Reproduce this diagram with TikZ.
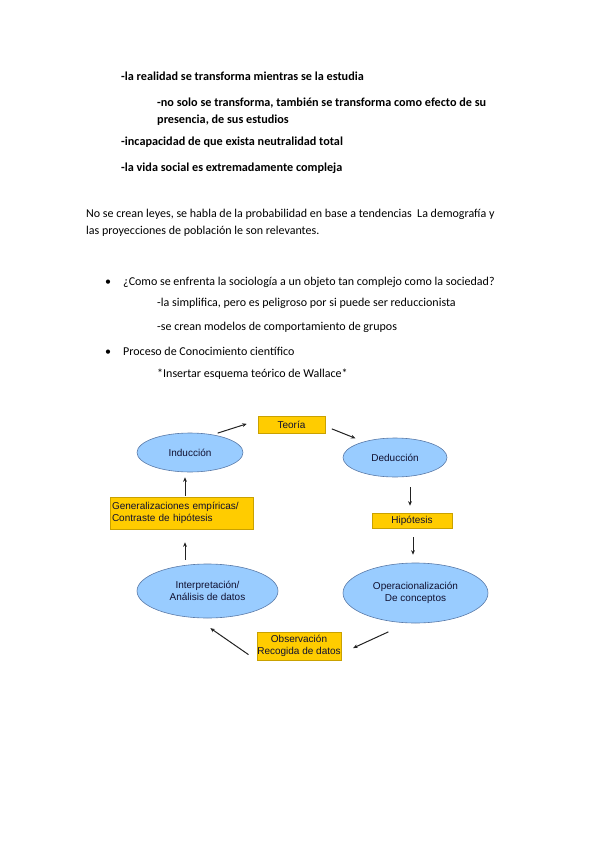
\documentclass[tikz,border=0pt]{standalone}
\usepackage{fontspec}
\setmainfont{Carlito}
\newfontfamily\arialf{Liberation Sans}
\usetikzlibrary{shapes.geometric,arrows.meta}
\definecolor{boxyellow}{HTML}{FFCC00}
\definecolor{boxedge}{HTML}{C9A100}
\definecolor{ellblue}{HTML}{99CCFF}
\definecolor{elledge}{HTML}{5A7AA8}
\definecolor{diagtext}{HTML}{101030}
\definecolor{arrowc}{HTML}{222222}
\begin{document}
\begin{tikzpicture}[x=1pt,y=-1pt,
 txt/.style={anchor=base west, inner sep=0pt, font=\fontsize{12}{14}\selectfont},
 btxt/.style={anchor=base west, inner sep=0pt, font=\fontsize{12.2}{14}\selectfont\bfseries},
 ybox/.style={rectangle, draw=boxedge, line width=0.6pt, fill=boxyellow, inner sep=0pt, text=diagtext, font=\arialf\fontsize{10}{11.5}\selectfont, align=center},
 bell/.style={ellipse, draw=elledge, line width=0.6pt, fill=ellblue, inner sep=0pt, text=diagtext, font=\arialf\fontsize{10}{11.5}\selectfont, align=center},
 arr/.style={draw=arrowc, line width=1pt, -{Stealth[length=4.5pt,width=3.8pt]}}]
\useasboundingbox (0,0) rectangle (599,848);
% text block
\node[btxt] (t1) at (121,81) {-la realidad se transforma mientras se la estudia};
\node[btxt] (t2) at (157,107) {-no solo se transforma, también se transforma como efecto de su};
\node[btxt] (t3) at (157,124) {presencia, de sus estudios};
\node[btxt] (t4) at (121,146) {-incapacidad de que exista neutralidad total};
\node[btxt] (t5) at (121,171) {-la vida social es extremadamente compleja};
\node[txt] (p1) at (86,217) {No se crean leyes, se habla de la probabilidad en base a tendencias\ \ La demografía y};
\node[txt] (p2) at (86,234) {las proyecciones de población le son relevantes.};
\node[txt] (b1) at (105,285) {•};
\node[txt] (q1) at (123,285) {¿Como se enfrenta la sociología a un objeto tan complejo como la sociedad?};
\node[txt] (q2) at (157,306) {-la simplifica, pero es peligroso por si puede ser reduccionista};
\node[txt] (q3) at (157,330) {-se crean modelos de comportamiento de grupos};
\node[txt] (b2) at (105,355) {•};
\node[txt] (q4) at (123,355) {Proceso de Conocimiento científico};
\node[txt] (q5) at (157,377) {*Insertar esquema teórico de Wallace*};
% diagram
\node[ybox, minimum width=67pt, minimum height=17pt] (teoria) at (291.5,424.5) {Teoría};
\node[bell, minimum width=106pt, minimum height=39pt] (induccion) at (190,452.5) {Inducción};
\node[bell, minimum width=104pt, minimum height=39pt] (deduccion) at (395,457.5) {Deducción};
\node[ybox, minimum width=80pt, minimum height=15pt] (hipotesis) at (412,520.5) {Hipótesis};
\node[bell, minimum width=145pt, minimum height=60pt] (operac) at (415.5,593) {Operacionalización\\De conceptos};
\node[ybox, minimum width=84pt, minimum height=28pt] (observ) at (299,646) {Observación\\Recogida de datos};
\node[bell, minimum width=141pt, minimum height=54pt] (interp) at (207.5,591) {Interpretación/\\Análisis de datos};
\node[ybox, minimum width=143pt, minimum height=32pt, text width=139pt, align=left] (general) at (181.5,513) {Generalizaciones empíricas/\\Contraste de hipótesis};
% arrows
\draw[arr, shorten <=5pt, shorten >=11.5pt] (induccion.38) -- (teoria.173);
\draw[arr, shorten <=7pt, shorten >=9pt] (teoria.-3) -- (deduccion.153);
\draw[arr, shorten <=10pt, shorten >=7pt] ([xshift=15pt]deduccion.south) -- ([xshift=-2pt]hipotesis.north);
\draw[arr, shorten <=9pt, shorten >=8pt] ([xshift=1pt]hipotesis.south) -- ([xshift=-2.5pt]operac.north);
\draw[arr, shorten <=21pt, shorten >=13pt] (operac.255) -- (observ.-10);
\draw[arr, shorten <=10pt, shorten >=18pt] (observ.south west) -- (interp.246);
\draw[arr, shorten <=4pt, shorten >=13pt] ([xshift=-22.5pt]interp.north) -- ([xshift=3.5pt]general.south);
\draw[arr, shorten <=1pt, shorten >=5pt] ([xshift=3.5pt]general.north) -- ([xshift=-5pt]induccion.south);
\end{tikzpicture}
\end{document}
